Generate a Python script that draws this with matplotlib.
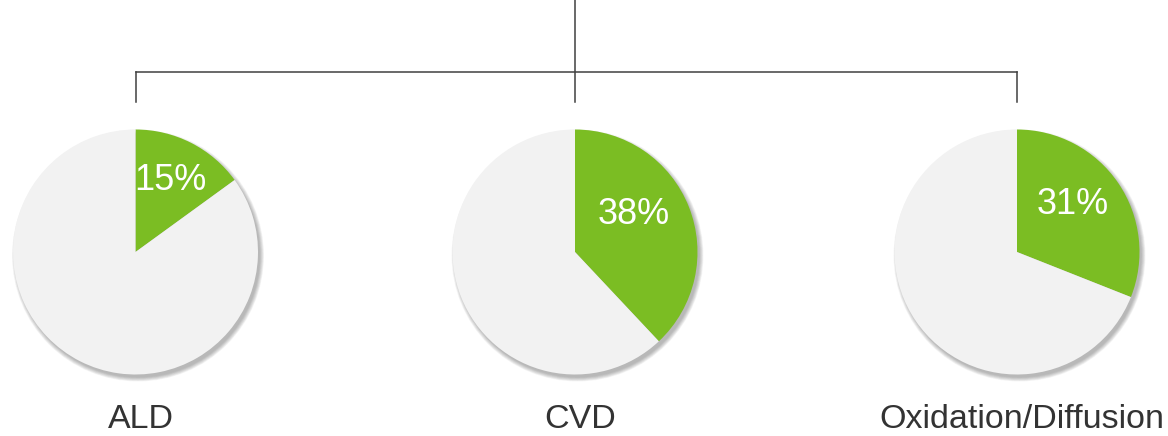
import numpy as np
import matplotlib.pyplot as plt
from matplotlib.patches import Circle

plt.rcParams['font.family'] = ['Liberation Sans', 'DejaVu Sans']

categories = ['ALD', 'CVD', 'Oxidation/Diffusion']
shares = [15, 38, 31]

green = '#7bbd23'
grey = '#f2f2f2'
W, H = 1168, 436

fig = plt.figure(figsize=(W / 100, H / 100), dpi=100)
ax = fig.add_axes([0, 0, 1, 1])

centers_x = [135.5, 575, 1017]
cy = H - 252
r = 122.5
# label offsets in pixels from pie centre (dx, dy downward)
pct_offsets = [(35, -72), (59, -37), (56, -47)]

for name, share, cx, (dx, dy) in zip(categories, shares, centers_x, pct_offsets):
    # soft drop shadow
    for k in range(10):
        ax.add_patch(Circle((cx + 2.5, cy - 3.5), r + 3.5 - 0.45 * k,
                            facecolor='#444444', edgecolor='none', alpha=0.045, zorder=1))
    wedges, _ = ax.pie([share, 100 - share], colors=[green, grey], startangle=90,
                       counterclock=False, center=(cx, cy), radius=r,
                       wedgeprops=dict(linewidth=0, zorder=2))
    for w in wedges:
        w.set_zorder(2)
    ax.text(cx + dx, cy - dy, f'{share}%', color='white', fontsize=26,
            ha='center', va='center', zorder=3)
    ax.text(cx + 5, H - 428, name, color='#333333', fontsize=24.5,
            ha='center', va='baseline', zorder=3)

# connector lines
lc = '#404040'
y_bar = H - 72
y_drop = H - 102
ax.plot([centers_x[1], centers_x[1]], [H, y_drop], color=lc, lw=1.1, zorder=4)
ax.plot([centers_x[0], centers_x[2]], [y_bar, y_bar], color=lc, lw=1.1, zorder=4)
for cx in (centers_x[0], centers_x[2]):
    ax.plot([cx, cx], [y_bar, y_drop], color=lc, lw=1.1, zorder=4)

ax.set_xlim(0, W)
ax.set_ylim(0, H)
ax.set_aspect('auto')
ax.axis('off')

fig.savefig('out.png', dpi=100)
